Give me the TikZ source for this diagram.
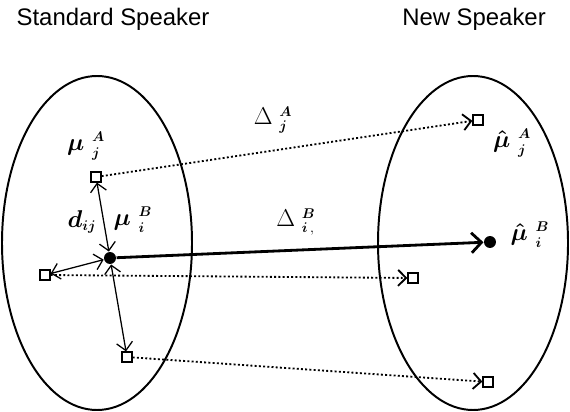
\documentclass[tikz,border=0pt]{standalone}
\usepackage{amsmath}
\usepackage{fontspec}
\newfontfamily\headfont{Liberation Sans}
\usetikzlibrary{arrows.meta}
\DeclareMathSizes{17}{17}{10}{8}

\newcommand{\lab}[3]{#1\;{}^{#2}_{#3}}

\begin{document}
\begin{tikzpicture}[x=0.025cm, y=-0.025cm, thick,
    pt/.style={draw, rectangle, minimum size=7pt, inner sep=0pt, line width=1pt, fill=white},
    mean/.style={circle, fill, minimum size=8.5pt, inner sep=0pt},
    link/.style={line width=0.9pt, {Straight Barb[length=2mm]}-{Straight Barb[length=2mm]}},
    mapto/.style={line width=1.3pt, dash pattern=on 1.4pt off 1.6pt, -{Straight Barb[length=2mm]}},
    sym/.style={font=\fontsize{17}{20}\selectfont\boldmath, inner sep=1pt},
    plainsym/.style={font=\fontsize{17}{20}\selectfont, inner sep=1pt}]
  \useasboundingbox (0,0) rectangle (570,412);

  \node[font=\headfont\fontsize{17}{20}\selectfont] (std) at (113,19) {Standard Speaker};
  \node[font=\headfont\fontsize{17}{20}\selectfont] (new) at (474,19) {New Speaker};

  \draw[line width=1.4pt] (97,243) ellipse [x radius=95, y radius=167];
  \draw[line width=1.4pt] (473,243) ellipse [x radius=95, y radius=167];

  % standard speaker
  \node[pt]   (aj) at (96,177) {};
  \node[mean] (bi) at (110,258) {};
  \node[pt]   (lf) at (45,275) {};
  \node[pt]   (lo) at (127,357) {};

  % new speaker
  \node[pt]   (naj) at (478,120) {};
  \node[mean] (nbi) at (490,242) {};
  \node[pt]   (nlf) at (413,278) {};
  \node[pt]   (nlo) at (488,382) {};

  \draw[link] (aj) -- (bi);
  \draw[link] (lf) -- (bi);
  \draw[link] (lo) -- (bi);

  \draw[line width=2pt, -{Straight Barb[length=2.5mm]}] (bi) -- (nbi);
  \draw[mapto] (aj) -- (naj);
  \draw[mapto] (lf) -- (nlf);
  \draw[mapto] (lo) -- (nlo);

  \node[sym] (laj)  at (86,146)  {$\lab{\mu}{A}{j}$};
  \node[sym] (ldij) at (82,222)  {$d_{ij}$};
  \node[sym] (lbi)  at (133,220) {$\lab{\mu}{B}{i}$};
  \node[plainsym] (ldA)  at (273,120) {$\lab{\Delta}{\boldsymbol{A}}{\boldsymbol{j}}$};
  \node[plainsym] (ldB)  at (296,222) {$\lab{\Delta}{\boldsymbol{B}}{\boldsymbol{i}\,,}$};
  \node[sym] (lnaj) at (512,143) {$\lab{\hat{\mu}}{A}{j}$};
  \node[sym] (lnbi) at (530,235) {$\lab{\hat{\mu}}{B}{i}$};
\end{tikzpicture}
\end{document}
